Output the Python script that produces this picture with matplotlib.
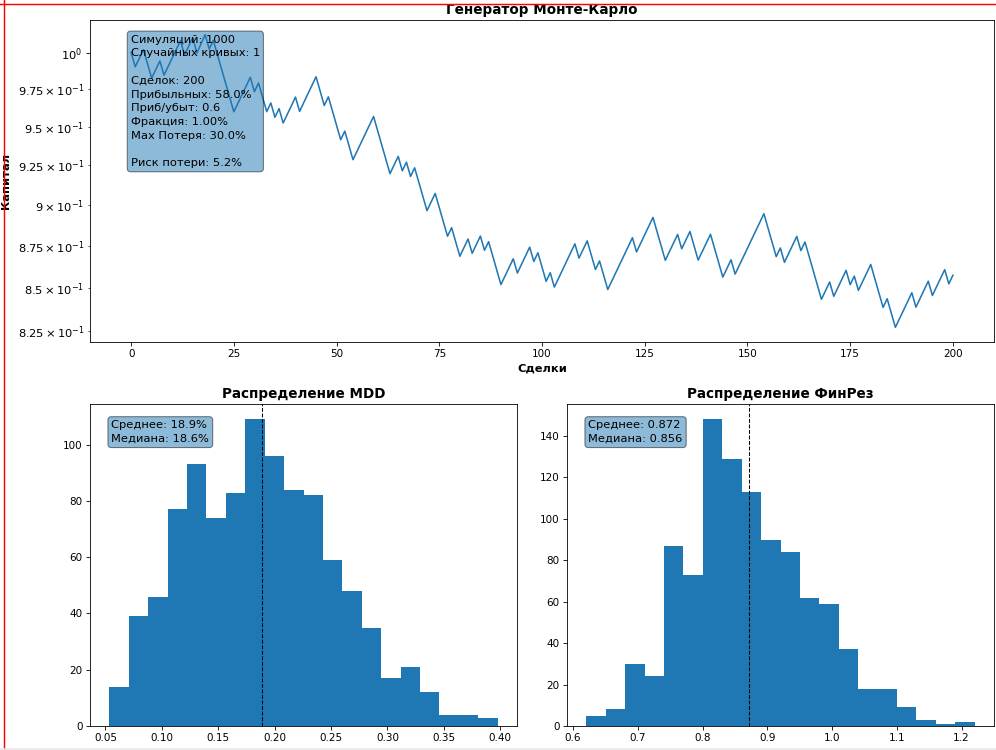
import numpy as np
import matplotlib
matplotlib.use("Agg")
import matplotlib.pyplot as plt
from matplotlib.lines import Line2D

# Equity curve: turning points (trade number, capital)
trade_pts = [0, 1, 3, 5, 7, 8, 12, 13, 15, 16, 18, 19, 20, 25, 29, 30, 31, 33, 34, 35,
             36, 37, 40, 41, 45, 47, 48, 51, 52, 54, 59, 63, 65, 66, 67, 68, 69, 72, 74, 77,
             78, 80, 82, 83, 85, 86, 87, 90, 93, 94, 97, 98, 99, 101, 102, 103, 108, 109, 111, 113,
             114, 116, 122, 123, 127, 130, 133, 134, 136, 138, 141, 144, 146, 147, 154, 157, 158, 159, 162, 163,
             164, 168, 170, 171, 174, 175, 176, 177, 180, 183, 184, 186, 190, 191, 194, 195, 198, 199, 200]
equity_pts = [1.0000, 0.9902, 1.0020, 0.9825, 0.9942, 0.9845, 1.0082, 0.9983, 1.0103, 0.9996,
              1.0124, 1.0024, 1.0084, 0.9599, 0.9830, 0.9733, 0.9792, 0.9600, 0.9658, 0.9563,
              0.9620, 0.9525, 0.9697, 0.9602, 0.9834, 0.9641, 0.9699, 0.9416, 0.9472, 0.9287,
              0.9568, 0.9198, 0.9308, 0.9216, 0.9271, 0.9180, 0.9235, 0.8966, 0.9073, 0.8809,
              0.8861, 0.8688, 0.8792, 0.8706, 0.8810, 0.8724, 0.8776, 0.8520, 0.8673, 0.8588,
              0.8743, 0.8657, 0.8709, 0.8539, 0.8590, 0.8505, 0.8763, 0.8677, 0.8781, 0.8609,
              0.8660, 0.8491, 0.8800, 0.8714, 0.8924, 0.8664, 0.8820, 0.8733, 0.8838, 0.8665,
              0.8821, 0.8564, 0.8667, 0.8582, 0.8947, 0.8686, 0.8738, 0.8652, 0.8808, 0.8722,
              0.8774, 0.8434, 0.8535, 0.8451, 0.8604, 0.8519, 0.8570, 0.8486, 0.8639, 0.8387,
              0.8437, 0.8272, 0.8472, 0.8388, 0.8540, 0.8456, 0.8608, 0.8524, 0.8575]

# MDD histogram
mdd_range = (0.0536, 0.3976)
mdd_counts = [14, 39, 46, 77, 93, 74, 83, 109, 96, 84, 82, 59, 48, 35, 17, 21, 12, 4, 4, 3]
mdd_mean = 0.189

# Final result histogram
fin_range = (0.6206, 1.2202)
fin_counts = [5, 8, 30, 24, 87, 73, 148, 129, 113, 90, 84, 62, 59, 37, 18, 18, 9, 3, 1, 2]
fin_mean = 0.872

info_text = ("Симуляций: 1000\nСлучайных кривых: 1\n\nСделок: 200\nПрибыльных: 58.0%\n"
             "Приб/убыт: 0.6\nФракция: 1.00%\nMax Потеря: 30.0%\n\nРиск потери: 5.2%")
mdd_text = "Среднее: 18.9%\nМедиана: 18.6%"
fin_text = "Среднее: 0.872\nМедиана: 0.856"

box = dict(boxstyle='round', facecolor='tab:blue', alpha=0.5)

fig = plt.figure(figsize=(996 / 75, 750 / 75), dpi=75)
ax_top = fig.add_axes([0.0904, 0.544, 0.9076, 0.4293])
ax_mdd = fig.add_axes([0.0904, 0.032, 0.4287, 0.4293])
ax_fin = fig.add_axes([0.5693, 0.032, 0.4287, 0.4293])

# Equity curve
ax_top.plot(trade_pts, equity_pts, color='tab:blue', linewidth=1.5)
ax_top.set_yscale('log')
ax_top.tick_params(axis='y', which='both', labelsize=11)
ax_top.set_title('Генератор Монте-Карло', fontsize=13, fontweight='bold')
ax_top.set_xlabel('Сделки', fontsize=11, fontweight='bold')
ax_top.set_ylabel('Капитал', fontsize=11, fontweight='bold', labelpad=6)
ax_top.text(0.045, 0.955, info_text, transform=ax_top.transAxes, va='top', ha='left',
            fontsize=11, linespacing=1.47, bbox=box)

# MDD distribution
edges = np.linspace(mdd_range[0], mdd_range[1], len(mdd_counts) + 1)
ax_mdd.hist(edges[:-1], bins=edges, weights=mdd_counts, color='tab:blue')
ax_mdd.axvline(mdd_mean, color='black', linestyle='--', linewidth=1)
ax_mdd.set_title('Распределение MDD', fontsize=13, fontweight='bold')
ax_mdd.text(0.05, 0.95, mdd_text, transform=ax_mdd.transAxes, va='top', ha='left',
            fontsize=11, linespacing=1.5, bbox=box)

# Final result distribution
edges = np.linspace(fin_range[0], fin_range[1], len(fin_counts) + 1)
ax_fin.hist(edges[:-1], bins=edges, weights=fin_counts, color='tab:blue')
ax_fin.axvline(fin_mean, color='black', linestyle='--', linewidth=1)
ax_fin.set_title('Распределение ФинРез', fontsize=13, fontweight='bold')
ax_fin.text(0.05, 0.95, fin_text, transform=ax_fin.transAxes, va='top', ha='left',
            fontsize=11, linespacing=1.5, bbox=box)

# red window frame and bottom edge
fig.add_artist(Line2D([4 / 996, 4 / 996], [0, 1], transform=fig.transFigure,
                      color='red', linewidth=1.4, zorder=10))
fig.add_artist(Line2D([0, 1], [1 - 4 / 750, 1 - 4 / 750], transform=fig.transFigure,
                      color='red', linewidth=1.4, zorder=10))
fig.add_artist(Line2D([0, 1], [1.5 / 750, 1.5 / 750], transform=fig.transFigure,
                      color='#e8e8e8', linewidth=1.5, zorder=10))

fig.savefig('out.png', dpi=75)
